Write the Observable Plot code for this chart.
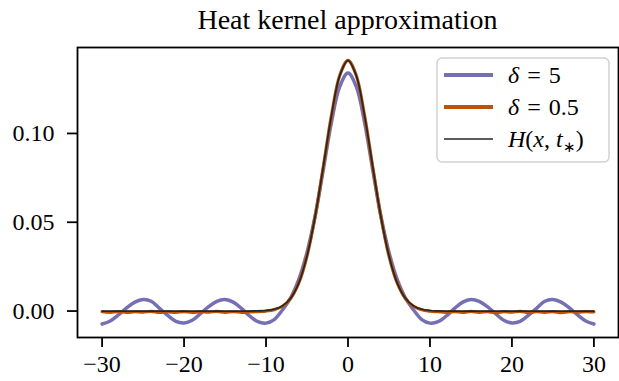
<!DOCTYPE html>
<html><head><meta charset="utf-8">
<script src="https://cdn.jsdelivr.net/npm/d3@7"></script>
<script src="https://cdn.jsdelivr.net/npm/@observablehq/plot@0.6"></script>
<style>
body{margin:0;background:#fff}
#chart{width:619px;height:381px;position:relative}
#chart svg text{font-family:'Liberation Serif','Times New Roman',serif !important}
</style>
</head><body><div id="chart"></div>
<script>
const title = "Heat kernel approximation";
const xs = [-30,-29,-28,-27,-26,-25,-24,-23,-22,-21,-20,-19,-18,-17,-16,-15,-14,-13,-12,-11,-10,-9,-8,-7,-6,-5,-4,-3,-2,-1,0,1,2,3,4,5,6,7,8,9,10,11,12,13,14,15,16,17,18,19,20,21,22,23,24,25,26,27,28,29,30];
const delta5 = [-0.0073,-0.0056,-0.0022,0.0018,0.0050,0.0065,0.0055,0.0015,-0.0025,-0.0058,-0.0067,-0.0052,-0.0015,0.0025,0.0055,0.0065,0.0050,0.0015,-0.0028,-0.0060,-0.0068,-0.0048,0.0006,0.0074,0.0178,0.0330,0.0537,0.0800,0.1068,0.1265,0.1340,0.1265,0.1068,0.0800,0.0537,0.0330,0.0178,0.0074,0.0006,-0.0048,-0.0068,-0.0060,-0.0028,0.0015,0.0050,0.0065,0.0055,0.0025,-0.0015,-0.0052,-0.0067,-0.0058,-0.0025,0.0015,0.0055,0.0065,0.0050,0.0018,-0.0022,-0.0056,-0.0073];
const delta05 = [-0.0004,-0.0007,-0.0003,-0.0008,-0.0004,-0.0006,-0.0002,-0.0008,-0.0005,-0.0007,-0.0003,-0.0008,-0.0004,-0.0006,-0.0002,-0.0007,-0.0004,-0.0007,-0.0005,-0.0003,0.0000,0.0008,0.0027,0.0071,0.0158,0.0310,0.0535,0.0817,0.1106,0.1328,0.1412,0.1328,0.1106,0.0817,0.0535,0.0310,0.0158,0.0071,0.0027,0.0007,-0.0001,-0.0004,-0.0007,-0.0003,-0.0008,-0.0002,-0.0007,-0.0004,-0.0009,-0.0003,-0.0006,-0.0002,-0.0008,-0.0004,-0.0007,-0.0003,-0.0009,-0.0004,-0.0006,-0.0003,-0.0005];
const heat = [0,0,0,0,0,0,0,0,0,0,0,0,0,0,0,0,0,0,0,0.0001,0.0003,0.0010,0.0029,0.0072,0.0159,0.0310,0.0535,0.0817,0.1106,0.1327,0.1410,0.1327,0.1106,0.0817,0.0535,0.0310,0.0159,0.0072,0.0029,0.0010,0.0003,0.0001,0,0,0,0,0,0,0,0,0,0,0,0,0,0,0,0,0,0,0];
const xTicks = [-30,-20,-10,0,10,20,30];
const yTicks = [0, 0.05, 0.10];
const colors = {d5:"#7570b3", d05:"#bb540a", heat:"#262626"};
const serif = "'Liberation Serif', 'Times New Roman', serif";

const toRows = arr => xs.map((x,i)=>({x, y: arr[i]}));
const fmtX = d => d < 0 ? "\u2212" + Math.abs(d) : String(d);

const svg = Plot.plot({
  width: 619, height: 381,
  marginLeft: 77, marginRight: 1, marginTop: 47, marginBottom: 44,
  x: {domain: [-33, 33], label: null},
  y: {domain: [-0.0149, 0.1484], label: null},
  style: {fontFamily: serif, fontSize: "24px", color: "#000", background: "#fff"},
  marks: [
    Plot.line(toRows(delta5), {x: "x", y: "y", stroke: colors.d5, strokeWidth: 3.5, curve: "catmull-rom"}),
    Plot.line(toRows(delta05), {x: "x", y: "y", stroke: colors.d05, strokeWidth: 3.2, curve: "catmull-rom"}),
    Plot.line(toRows(heat), {x: "x", y: "y", stroke: colors.heat, strokeWidth: 1.7, curve: "catmull-rom"}),
    Plot.frame({stroke: "#000", strokeWidth: 1.8}),
    Plot.axisX({ticks: xTicks, tickSize: 10, tickPadding: 7, tickFormat: fmtX, strokeWidth: 1.8, fill: "#000", fontSize: 24, label: null}),
    Plot.axisY({ticks: yTicks, tickSize: 10, tickPadding: 13, tickFormat: d3.format(".2f"), strokeWidth: 1.8, fill: "#000", fontSize: 24, label: null})
  ]
});
document.getElementById("chart").appendChild(svg);

const s = d3.select(svg);
s.append("text").attr("x", 347.5).attr("y", 29).attr("text-anchor", "middle")
  .attr("font-family", serif).attr("font-size", 28).attr("fill", "#000").text(title);

const lg = s.append("g").attr("font-family", serif).attr("font-size", 24).attr("fill", "#000").attr("text-anchor", "start");
lg.append("rect").attr("x", 437).attr("y", 58).attr("width", 172).attr("height", 104).attr("rx", 5)
  .attr("fill", "#fff").attr("fill-opacity", 0.85).attr("stroke", "#d2d2d2").attr("stroke-width", 1.5);
const entries = [
  {c: colors.d5, w: 4},
  {c: colors.d05, w: 4},
  {c: colors.heat, w: 1.7}
];
entries.forEach((e, i) => {
  const cy = 75 + i * 32;
  lg.append("line").attr("x1", 444).attr("x2", 493).attr("y1", cy).attr("y2", cy).attr("stroke", e.c).attr("stroke-width", e.w);
});
const sp = "\u2004";
const t1 = lg.append("text").attr("x", 508).attr("y", 83);
t1.append("tspan").attr("font-style", "italic").text("δ");
t1.append("tspan").text(sp + "=" + sp + "5");
const t2 = lg.append("text").attr("x", 508).attr("y", 115);
t2.append("tspan").attr("font-style", "italic").text("δ");
t2.append("tspan").text(sp + "=" + sp + "0.5");
const t3 = lg.append("text").attr("x", 508).attr("y", 147);
t3.append("tspan").attr("font-style", "italic").text("H");
t3.append("tspan").text("(");
t3.append("tspan").attr("font-style", "italic").text("x");
t3.append("tspan").text(", ");
t3.append("tspan").attr("font-style", "italic").text("t");
t3.append("tspan").attr("font-size", 15).attr("dy", 5).text("∗");
t3.append("tspan").attr("dy", -5).text(")");
</script>
</body></html>
